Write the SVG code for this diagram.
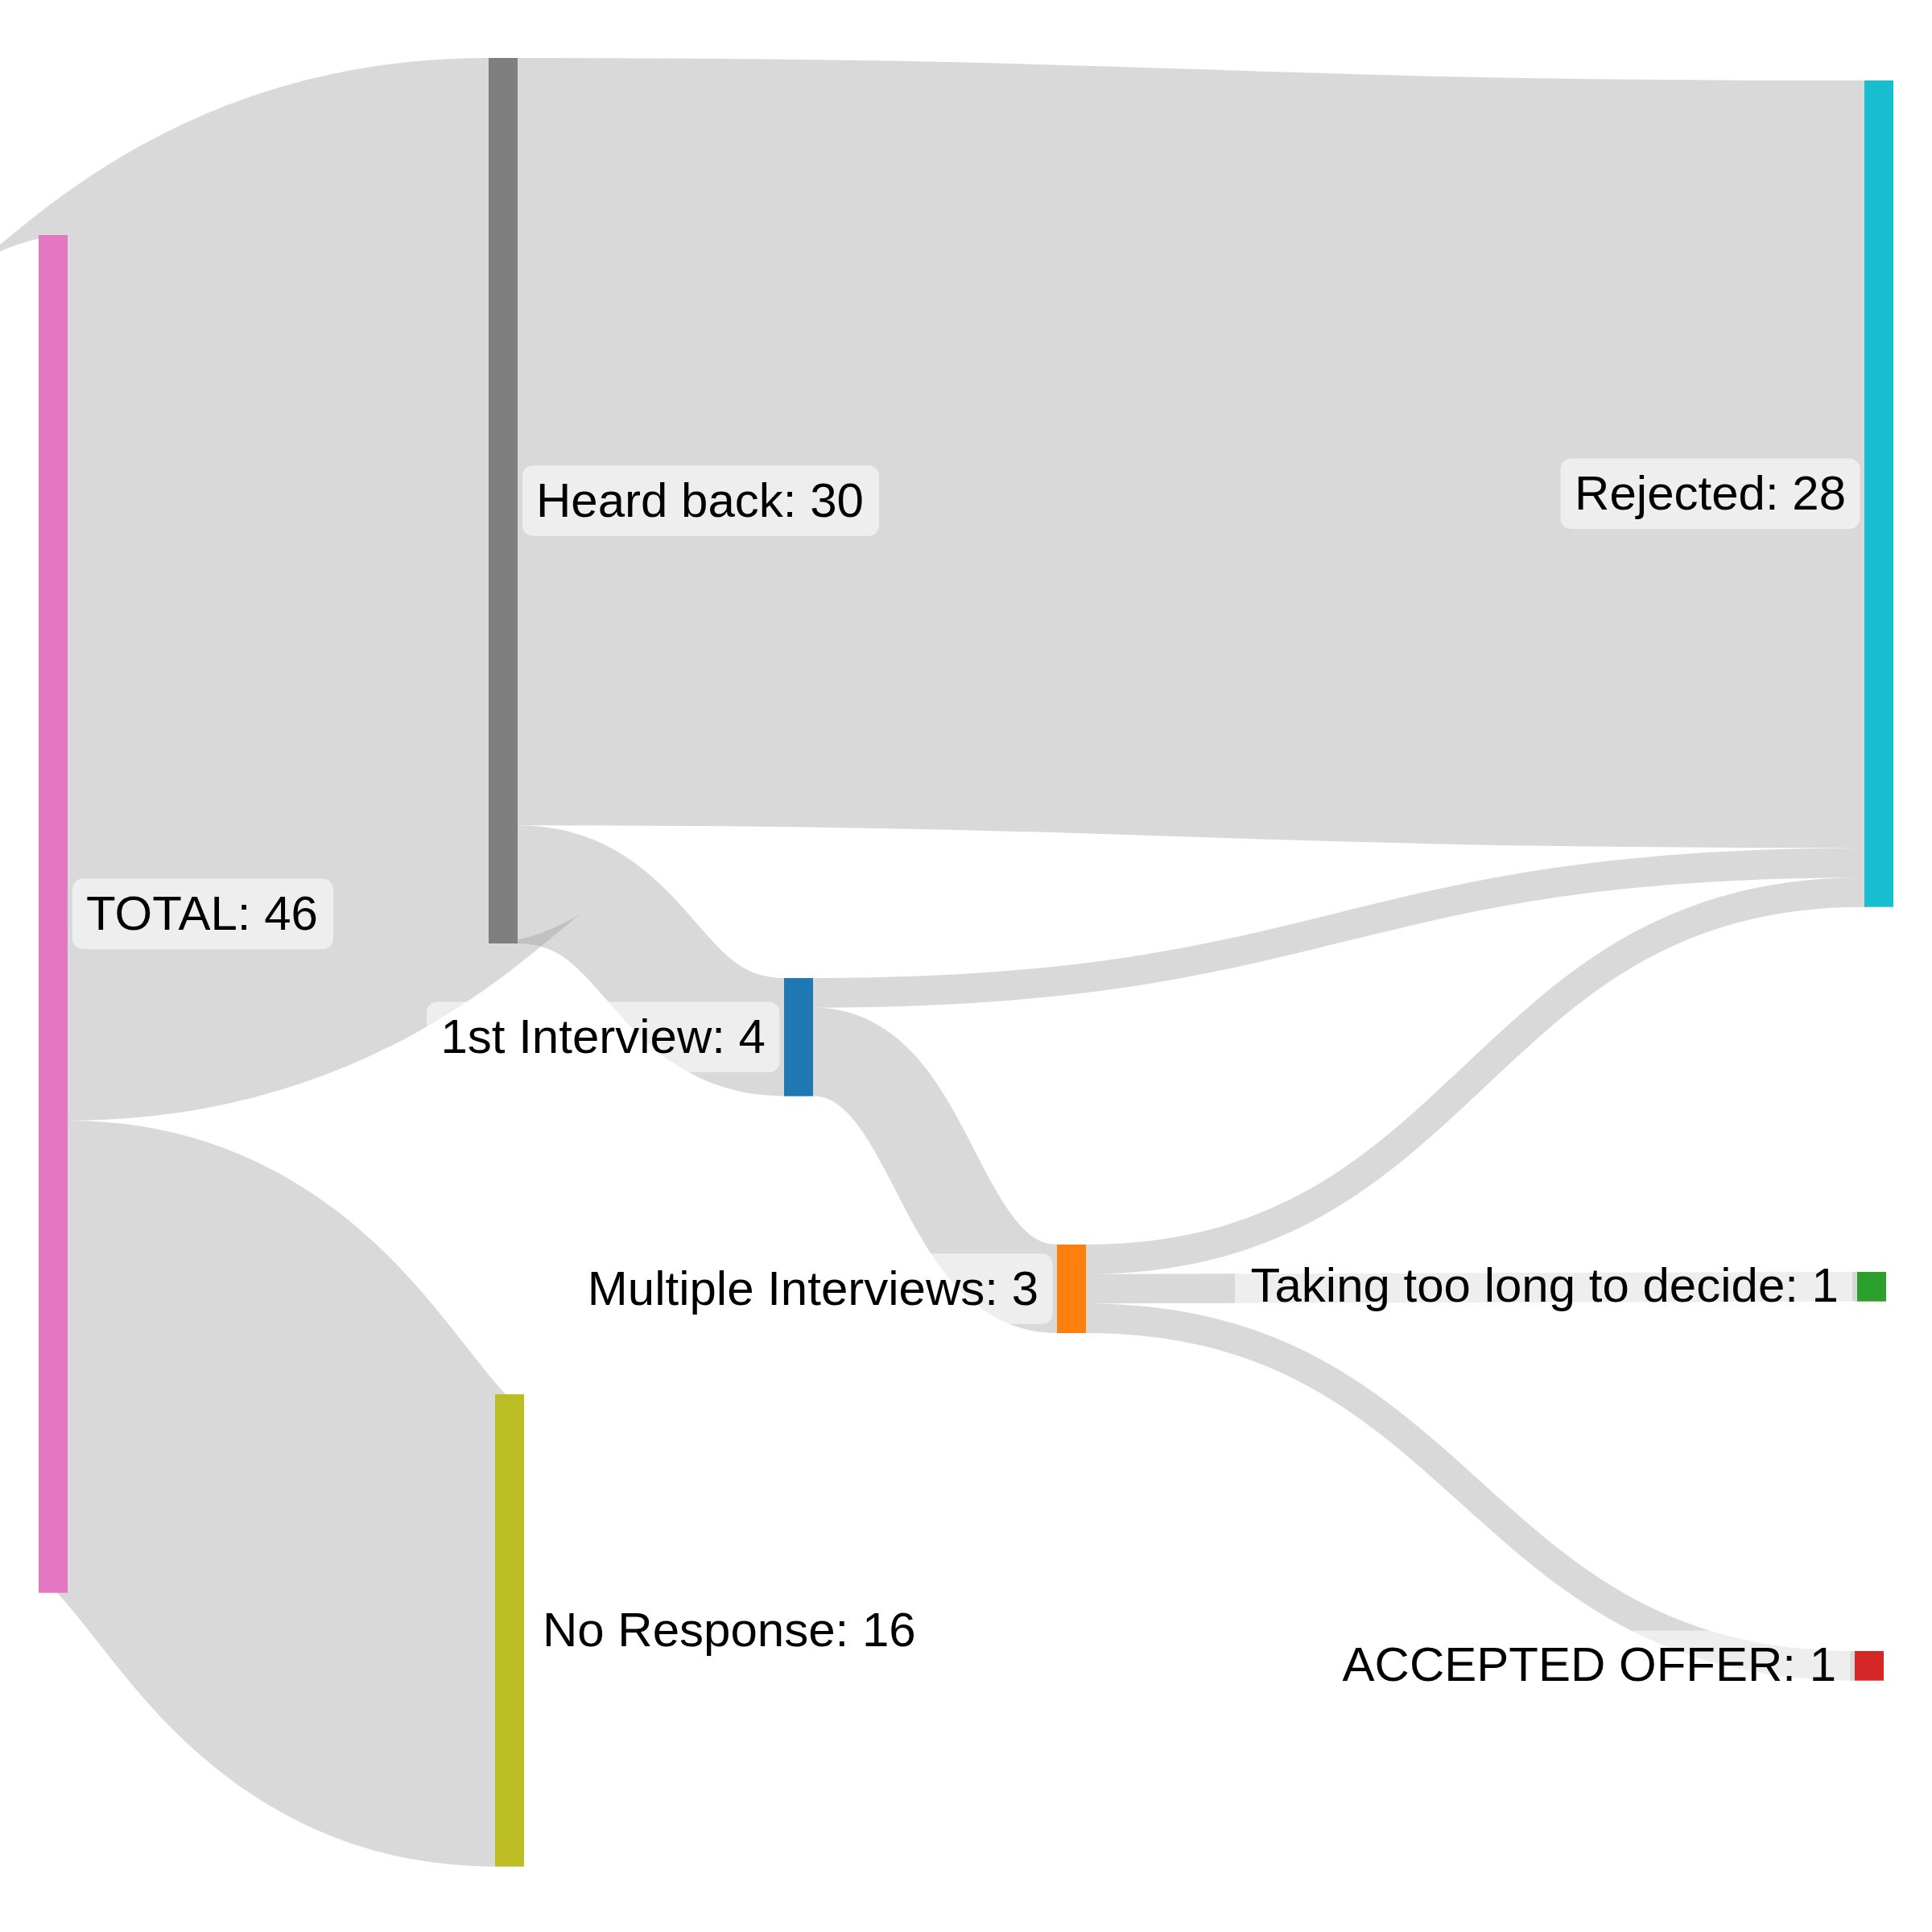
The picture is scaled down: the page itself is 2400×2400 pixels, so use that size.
<svg xmlns="http://www.w3.org/2000/svg" width="2400" height="2400" viewBox="0 0 2400 2400">
<style>
.link{fill:none;stroke:#999999;stroke-opacity:0.37}
.hl{fill:#ffffff;fill-opacity:0.55}
.lbl{font-family:"Liberation Sans",Arial,sans-serif;font-size:60px;fill:#000000}
.end{text-anchor:end}
</style>
<rect x="0" y="0" width="2400" height="2400" fill="#ffffff"/>
<g id="links">
<path class="link" stroke-width="1100" d="M84,842 C345.5,842 345.5,622 607,622"/>
<path class="link" stroke-width="586.7" d="M84,1685.3 C349.5,1685.3 349.5,2025.3 615,2025.3"/>
<path class="link" stroke-width="953.3" d="M643,548.7 C1479.5,548.7 1479.5,576.7 2316,576.7"/>
<path class="link" stroke-width="146.7" d="M643,1098.7 C808.5,1098.7 808.5,1288.3 974,1288.3"/>
<path class="link" stroke-width="36.7" d="M1010,1233.3 C1663,1233.3 1663,1071.7 2316,1071.7"/>
<path class="link" stroke-width="110" d="M1010,1306.7 C1161.5,1306.7 1161.5,1601 1313,1601"/>
<path class="link" stroke-width="36.7" d="M1349,1564.3 C1832.5,1564.3 1832.5,1108.3 2316,1108.3"/>
<path class="link" stroke-width="36.7" d="M1349,1601 C1828,1601 1828,1598.3 2307,1598.3"/>
<path class="link" stroke-width="36.7" d="M1349,1637.7 C1826.5,1637.7 1826.5,2069.3 2304,2069.3"/>
</g>
<g id="node-total">
<rect x="48" y="292" width="36" height="1686.7" fill="#e377c2"/>
<rect class="hl" x="90" y="1091.6" width="324" height="87.4" rx="13"/>
<text class="lbl" x="107" y="1155">TOTAL: 46</text>
</g>
<g id="node-heard-back">
<rect x="607" y="72" width="36" height="1100" fill="#7f7f7f"/>
<rect class="hl" x="649" y="578.3" width="443" height="87.4" rx="13"/>
<text class="lbl" x="666" y="641.7">Heard back: 30</text>
</g>
<g id="node-no-response">
<rect x="615" y="1732" width="36" height="586.7" fill="#bcbd22"/>
<rect class="hl" x="656.5" y="1981.6" width="498.6" height="87.4" rx="13"/>
<text class="lbl" x="674" y="2045">No Response: 16</text>
</g>
<g id="node-1st-interview">
<rect x="974" y="1215" width="36" height="146.7" fill="#1f77b4"/>
<rect class="hl" x="530" y="1244.6" width="438.5" height="87.4" rx="13"/>
<text class="lbl end" x="951" y="1308">1st Interview: 4</text>
</g>
<g id="node-multiple-interviews">
<rect x="1313" y="1546" width="36" height="110" fill="#ff7f0e"/>
<rect class="hl" x="712" y="1557.3" width="595.5" height="87.4" rx="13"/>
<text class="lbl end" x="1290" y="1620.7">Multiple Interviews: 3</text>
</g>
<g id="node-rejected">
<rect x="2316" y="100" width="36" height="1026.7" fill="#17becf"/>
<rect class="hl" x="1938.5" y="569.6" width="372" height="87.4" rx="13"/>
<text class="lbl end" x="2293" y="633">Rejected: 28</text>
</g>
<g id="node-taking-too-long">
<rect x="2307" y="1580" width="36" height="36.7" fill="#2ca02c"/>
<rect class="hl" x="1534" y="1554.6" width="767" height="87.4" rx="13"/>
<text class="lbl end" x="2284" y="1617">Taking too long to decide: 1</text>
</g>
<g id="node-accepted-offer">
<rect x="2304" y="2051" width="36" height="36.7" fill="#d62728"/>
<rect class="hl" x="1650" y="2025.6" width="648.5" height="87.4" rx="13"/>
<text class="lbl end" x="2281" y="2088">ACCEPTED OFFER: 1</text>
</g>
</svg>
